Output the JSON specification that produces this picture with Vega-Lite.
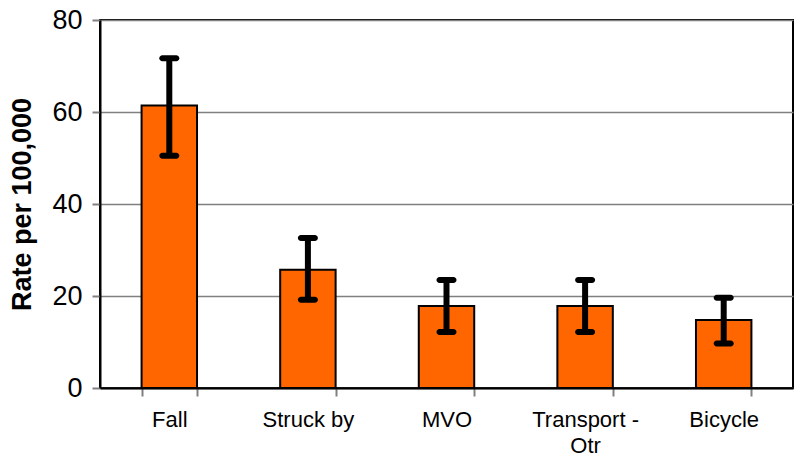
{
  "$schema": "https://vega.github.io/schema/vega-lite/v6.json",
  "autosize": {"type": "none"},
  "width": 693,
  "height": 368,
  "padding": {"left": 100, "top": 20, "right": 1, "bottom": 68},
  "background": "white",
  "config": {
    "view": {"stroke": "black", "strokeWidth": 2},
    "font": "Liberation Sans"
  },
  "data": {
    "values": [
      {"cause": "Fall", "rate": 61.4, "lower": 50.5, "upper": 71.7},
      {"cause": "Struck by", "rate": 25.7, "lower": 19.2, "upper": 32.6},
      {"cause": "MVO", "rate": 17.8, "lower": 12.2, "upper": 23.5},
      {"cause": "Transport - Otr", "rate": 17.8, "lower": 12.2, "upper": 23.5},
      {"cause": "Bicycle", "rate": 14.8, "lower": 9.7, "upper": 19.6}
    ]
  },
  "encoding": {
    "x": {
      "field": "cause",
      "type": "nominal",
      "sort": null,
      "scale": {"paddingInner": 0.6, "paddingOuter": 0.3},
      "axis": {
        "title": null,
        "labelAngle": 0,
        "labelFontSize": 22,
        "labelColor": "black",
        "labelPadding": 13,
        "labelBaseline": "top",
        "labelLineHeight": 26,
        "labelExpr": "datum.value == 'Transport - Otr' ? ['Transport -', 'Otr'] : datum.value",
        "tickBand": "extent",
        "tickSize": 8,
        "tickColor": "#808080",
        "tickWidth": 2,
        "domainColor": "black",
        "domainWidth": 2
      }
    }
  },
  "layer": [
    {
      "mark": {"type": "bar", "fill": "#FF6600", "stroke": "black", "strokeWidth": 2},
      "encoding": {
        "y": {
          "field": "rate",
          "type": "quantitative",
          "scale": {"domain": [0, 80]},
          "axis": {
            "title": "Rate per 100,000",
            "titleFontSize": 27,
            "titleFontWeight": "bold",
            "titleColor": "black",
            "titlePadding": 15,
            "values": [0, 20, 40, 60, 80],
            "labelFontSize": 27,
            "labelColor": "black",
            "labelPadding": 10,
            "tickSize": 8,
            "tickColor": "#808080",
            "tickWidth": 2,
            "domainColor": "black",
            "domainWidth": 2,
            "grid": true,
            "gridColor": "#808080",
            "gridWidth": 1.5
          }
        }
      }
    },
    {
      "mark": {"type": "rule", "color": "black", "strokeWidth": 6},
      "encoding": {
        "y": {"field": "lower", "type": "quantitative"},
        "y2": {"field": "upper"}
      }
    },
    {
      "mark": {"type": "tick", "color": "black", "opacity": 1, "size": 20, "thickness": 6, "cornerRadius": 3},
      "encoding": {"y": {"field": "upper", "type": "quantitative"}}
    },
    {
      "mark": {"type": "tick", "color": "black", "opacity": 1, "size": 20, "thickness": 6, "cornerRadius": 3},
      "encoding": {"y": {"field": "lower", "type": "quantitative"}}
    }
  ]
}
